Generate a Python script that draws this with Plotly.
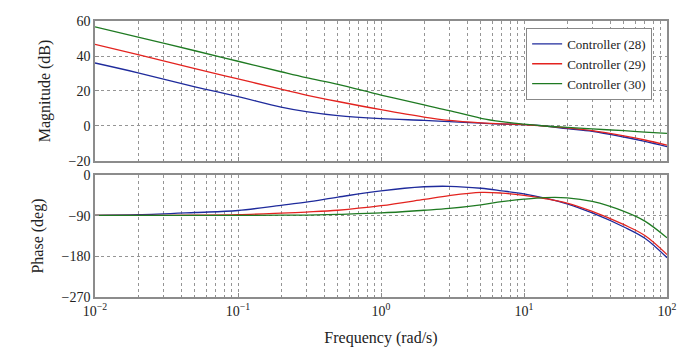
import plotly.graph_objects as go
from plotly.subplots import make_subplots

freq = [0.01, 0.02, 0.05, 0.1, 0.2, 0.3, 0.5, 1, 2, 3, 5, 7, 10, 14, 20, 30, 50, 70, 100]

mag_28 = [36, 30.4, 22.4, 16.8, 10.8, 8.2, 5.9, 4.2, 3.2, 2.5, 1.6, 1.1, 0.8, 0.0, -1.5, -3.0, -6.3, -8.8, -11.8]
mag_29 = [46.7, 40.8, 32.8, 26.9, 21.0, 17.7, 14.0, 9.3, 5.1, 3.2, 1.8, 1.2, 0.8, -0.1, -1.1, -2.7, -5.7, -8.0, -10.9]
mag_30 = [56.7, 50.8, 43.0, 37.0, 31.0, 27.6, 23.8, 17.7, 12.0, 8.8, 4.4, 2.5, 1.1, 0.0, -0.8, -1.7, -2.7, -3.5, -4.2]

ph_28 = [-89.3, -88, -83, -78.5, -67, -60, -49, -35, -26, -25, -29.3, -35, -41.7, -51, -63.7, -84, -115, -140, -183]
ph_29 = [-89.5, -89.3, -89, -88, -84.5, -82, -78, -68, -54, -45.5, -38.5, -40, -45, -52, -62, -80.5, -110, -134, -176]
ph_30 = [-89.5, -89.5, -89.5, -89.3, -89, -88.7, -87, -84, -78, -74, -66, -59, -53.4, -50, -50.5, -58.5, -80.5, -102, -139]

names = ["Controller (28)", "Controller (29)", "Controller (30)"]
colors = ["#1f2b9c", "#e3231f", "#1f7a22"]

mag_ticks = [-20, 0, 20, 40, 60]
ph_ticks = [0, -90, -180, -270]
x_tickvals = [0.01, 0.1, 1, 10, 100]
x_ticktext = ["10<sup>−2</sup>", "10<sup>−1</sup>", "10<sup>0</sup>", "10<sup>1</sup>", "10<sup>2</sup>"]

fig = make_subplots(rows=2, cols=1, shared_xaxes=False, vertical_spacing=0.05)
for name, col, m, p in zip(names, colors, [mag_28, mag_29, mag_30], [ph_28, ph_29, ph_30]):
    fig.add_trace(go.Scatter(x=freq, y=m, mode="lines", name=name,
                             line=dict(color=col, width=1.3, shape="spline", smoothing=1.0)),
                  row=1, col=1)
    fig.add_trace(go.Scatter(x=freq, y=p, mode="lines", name=name, showlegend=False,
                             line=dict(color=col, width=1.3, shape="spline", smoothing=1.0)),
                  row=2, col=1)

SERIF = "Liberation Serif"
font = dict(family=SERIF, size=13, color="#222")
gridkw = dict(showgrid=True, gridcolor="#959595", griddash="dot", gridwidth=1,
              showline=True, linecolor="#8c8c8c", linewidth=1.5, mirror=True,
              ticks="inside", ticklen=4, tickcolor="#8c8c8c", zeroline=False,
              automargin=False)

xkw = dict(type="log", range=[-2, 2], tickmode="array", tickvals=x_tickvals,
           minor=dict(dtick="D1", showgrid=True, gridcolor="#959595", griddash="dot",
                      gridwidth=1, ticks="inside", ticklen=2, tickcolor="#8c8c8c"),
           **gridkw)

fig.update_xaxes(domain=[0, 1], showticklabels=False, row=1, col=1, **xkw)
fig.update_xaxes(domain=[0, 1], row=2, col=1, ticktext=x_ticktext,
                 tickfont=dict(family=SERIF, size=14),
                 title=dict(text="Frequency (rad/s)", standoff=14), **xkw)
fig.update_yaxes(domain=[0.4928, 1], range=[-20, 60], tickvals=mag_ticks,
                 tickfont=dict(family=SERIF, size=14),
                 title=dict(text="Magnitude (dB)", standoff=14), row=1, col=1, **gridkw)
fig.update_yaxes(domain=[0, 0.442], range=[-270, 0], tickvals=ph_ticks,
                 tickfont=dict(family=SERIF, size=14),
                 title=dict(text="Phase (deg)", standoff=14), row=2, col=1, **gridkw)

fig.update_layout(
    width=696, height=352,
    margin=dict(l=95, r=29, t=21, b=55, autoexpand=False),
    paper_bgcolor="white", plot_bgcolor="white",
    font=font,
    legend=dict(x=0.974, y=0.975, xanchor="right", yanchor="top",
                bgcolor="white", bordercolor="#888", borderwidth=1,
                font=dict(family=SERIF, size=13), tracegroupgap=0, itemwidth=30),
    showlegend=True,
)
fig.write_html("out.html")
